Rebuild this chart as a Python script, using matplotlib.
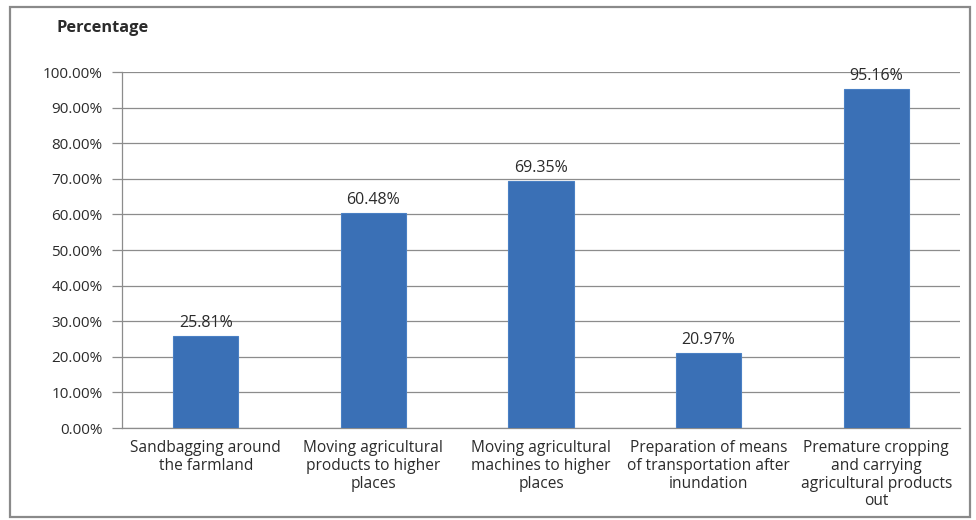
import matplotlib
matplotlib.use("Agg")
import matplotlib.pyplot as plt
from matplotlib.patches import Rectangle
from matplotlib.ticker import FuncFormatter, MultipleLocator

categories = [
    "Sandbagging around\nthe farmland",
    "Moving agricultural\nproducts to higher\nplaces",
    "Moving agricultural\nmachines to higher\nplaces",
    "Preparation of means\nof transportation after\ninundation",
    "Premature cropping\nand carrying\nagricultural products\nout",
]
values = [25.81, 60.48, 69.35, 20.97, 95.16]
value_labels = ["25.81%", "60.48%", "69.35%", "20.97%", "95.16%"]

plt.rcParams["font.family"] = ["Open Sans", "DejaVu Sans"]
text_color = "#2b2b2b"

fig = plt.figure(figsize=(9.76, 5.2), dpi=100)
ax = fig.add_axes([122 / 976, 1 - 428 / 520, (960 - 122) / 976, (428 - 72) / 520])

x = list(range(len(categories)))
ax.bar(x, values, width=0.39, color="#3A70B6", edgecolor="#4A80C4", linewidth=0.8, zorder=3)
for xi, v, lab in zip(x, values, value_labels):
    ax.text(xi, v + 1.4, lab, ha="center", va="bottom", fontsize=11.5, color=text_color)

ax.set_xlim(-0.5, len(categories) - 0.5)
ax.set_ylim(0, 100)
ax.yaxis.set_major_locator(MultipleLocator(10))
ax.yaxis.set_major_formatter(FuncFormatter(lambda v, p: f"{v:.2f}%"))
ax.grid(axis="y", color="#8c8c8c", linewidth=0.9, zorder=0)
ax.set_xticks(x)
ax.set_xticklabels(categories, fontsize=11.2, color=text_color, linespacing=1.13)
ax.tick_params(axis="y", labelsize=11, colors="#8c8c8c", labelcolor=text_color, length=7, width=0.9, pad=7)
ax.tick_params(axis="x", length=0, pad=9)
for s in ["top", "right"]:
    ax.spines[s].set_visible(False)
ax.spines["left"].set_color("#8c8c8c")
ax.spines["bottom"].set_color("#8c8c8c")
ax.spines["left"].set_linewidth(0.9)
ax.spines["bottom"].set_linewidth(0.9)

fig.text(56 / 976, 1 - 28 / 520, "Percentage", fontsize=11.8, fontweight="bold",
         color=text_color, ha="left", va="center")

# outer frame of the chart area
fig.patches.append(Rectangle((10 / 976, 3 / 520), 960 / 976, 510 / 520, transform=fig.transFigure,
                             fill=False, edgecolor="#8a8a8a", linewidth=1.6))

fig.savefig("out.png", dpi=100)
